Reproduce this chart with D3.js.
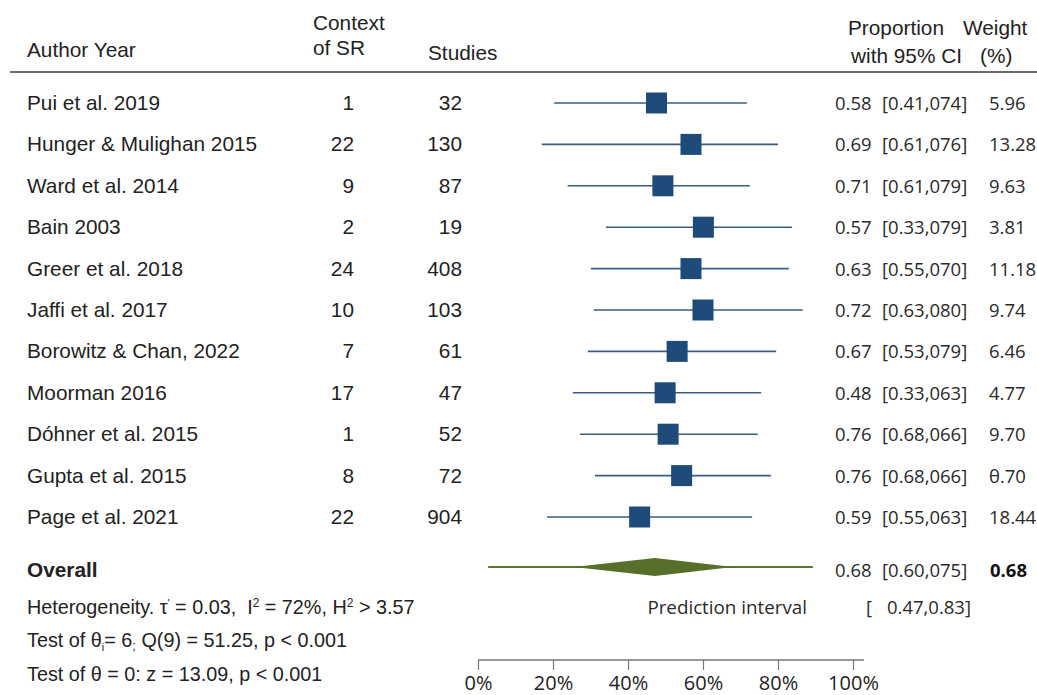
<!DOCTYPE html>
<html>
<head>
<meta charset="utf-8">
<script src="https://cdn.jsdelivr.net/npm/d3@7"></script>
<style>
  body { margin: 0; background: #fff; }
  .lab { font-family: "Liberation Sans", Arial, sans-serif; font-size: 20.8px; fill: #222; }
  .num { font-family: "Open Sans", sans-serif; font-size: 18.5px; fill: #2a2a2a; }
</style>
</head>
<body>
<div id="chart"></div>
<script>
// study rows
const authors = ["Pui et al. 2019", "Hunger & Mulighan 2015", "Ward et al. 2014", "Bain 2003",
  "Greer et al. 2018", "Jaffi et al. 2017", "Borowitz & Chan, 2022", "Moorman 2016",
  "Dóhner et al. 2015", "Gupta et al. 2015", "Page et al. 2021"];
const contexts = [1, 22, 9, 2, 24, 10, 7, 17, 1, 8, 22];
const studies = [32, 130, 87, 19, 408, 103, 61, 47, 52, 72, 904];
const propLabels = ["0.58", "0.69", "0.71", "0.57", "0.63", "0.72", "0.67", "0.48", "0.76", "0.76", "0.59"];
const ciLabels = ["[0.41,074]", "[0.61,076]", "[0.61,079]", "[0.33,079]", "[0.55,070]", "[0.63,080]",
  "[0.53,079]", "[0.33,063]", "[0.68,066]", "[0.68,066]", "[0.55,063]"];
const weightLabels = ["5.96", "13.28", "9.63", "3.81", "11.18", "9.74", "6.46", "4.77", "9.70", "θ.70", "18.44"];

// plotted positions (percent)
const estimates = [47.6, 56.8, 49.3, 60.1, 56.8, 60.0, 53.1, 49.9, 50.7, 54.3, 43.1];
const ciLow = [20.3, 17.0, 23.9, 34.1, 30.1, 30.9, 29.3, 25.3, 27.2, 31.2, 18.4];
const ciHigh = [71.7, 80.0, 72.5, 83.7, 82.9, 86.6, 79.5, 75.5, 74.6, 78.1, 73.1];

// overall
const overallEst = 47.2, overallLow = 25.5, overallHigh = 68.0;
const predLow = 2.7, predHigh = 89.3;

const xTicks = [0, 20, 40, 60, 80, 100];

const width = 1037, height = 695;
const svg = d3.select("#chart").append("svg")
  .attr("width", width)
  .attr("height", height);

const x = d3.scaleLinear().domain([0, 100]).range([478, 853]);
const y = d3.scalePoint().domain(authors).range([103, 517]);

// header
const hdr = svg.append("g").attr("class", "lab");
hdr.append("text").attr("x", 27).attr("y", 57).text("Author Year");
hdr.append("text").attr("x", 313).attr("y", 30).text("Context");
hdr.append("text").attr("x", 313).attr("y", 55).text("of SR");
hdr.append("text").attr("x", 428).attr("y", 60).text("Studies");
hdr.append("text").attr("x", 848).attr("y", 35).text("Proportion");
hdr.append("text").attr("x", 963).attr("y", 35).text("Weight");
hdr.append("text").attr("x", 851).attr("y", 63).text("with 95% CI");
hdr.append("text").attr("x", 980).attr("y", 63).text("(%)");
svg.append("line")
  .attr("x1", 10).attr("x2", width)
  .attr("y1", 72).attr("y2", 72)
  .attr("stroke", "#6a6a6a").attr("stroke-width", 2);

// row text
const rows = svg.append("g").selectAll("g").data(authors).join("g")
  .attr("transform", d => `translate(0,${y(d) + 7})`);
rows.append("text").attr("class", "lab").attr("x", 27).text(d => d);
rows.append("text").attr("class", "lab").attr("x", 354).attr("text-anchor", "end")
  .text((d, i) => contexts[i]);
rows.append("text").attr("class", "lab").attr("x", 462).attr("text-anchor", "end")
  .text((d, i) => studies[i]);
rows.append("text").attr("class", "num").attr("x", 835).text((d, i) => propLabels[i]);
rows.append("text").attr("class", "num").attr("x", 882).text((d, i) => ciLabels[i]);
rows.append("text").attr("class", "num").attr("x", 989).text((d, i) => weightLabels[i]);

// CI lines and squares
const marks = svg.append("g");
marks.selectAll("line").data(authors).join("line")
  .attr("x1", (d, i) => x(ciLow[i]))
  .attr("x2", (d, i) => x(ciHigh[i]))
  .attr("y1", d => y(d)).attr("y2", d => y(d))
  .attr("stroke", "#3a5d80").attr("stroke-width", 1.6);
const sq = 21;
marks.selectAll("rect").data(authors).join("rect")
  .attr("x", (d, i) => x(estimates[i]) - sq / 2)
  .attr("y", d => y(d) - sq / 2)
  .attr("width", sq).attr("height", sq)
  .attr("fill", "#1f4b7a");

// overall
const oy = 567;
svg.append("line")
  .attr("x1", x(predLow)).attr("x2", x(predHigh))
  .attr("y1", oy).attr("y2", oy)
  .attr("stroke", "#5b7430").attr("stroke-width", 2);
svg.append("path")
  .attr("d", `M${x(overallLow)},${oy} L${x(overallEst)},${oy - 9} L${x(overallHigh)},${oy} L${x(overallEst)},${oy + 9} Z`)
  .attr("fill", "#566f2a");

svg.append("text").attr("class", "lab").attr("x", 27).attr("y", 577)
  .attr("font-weight", "bold").text("Overall");
svg.append("text").attr("class", "num").attr("x", 835).attr("y", 577).text("0.68");
svg.append("text").attr("class", "num").attr("x", 882).attr("y", 577).text("[0.60,075]");
svg.append("text").attr("class", "num").attr("x", 990).attr("y", 577)
  .attr("font-weight", "bold").style("fill", "#111").text("0.68");

// heterogeneity lines
const het = svg.append("text").attr("class", "lab").attr("x", 27).attr("y", 614)
  .style("font-size", "19.8px");
het.append("tspan").text("Heterogeneity. τ");
het.append("tspan").attr("dy", -7).style("font-size", "11px").text("'");
het.append("tspan").attr("dy", 7).text(" = 0.03,\u00A0 I");
het.append("tspan").attr("dy", -7).style("font-size", "12px").text("2");
het.append("tspan").attr("dy", 7).text(" = 72%, H");
het.append("tspan").attr("dy", -7).style("font-size", "12px").text("2");
het.append("tspan").attr("dy", 7).text("\u00A0> 3.57");

const q = svg.append("text").attr("class", "lab").attr("x", 27).attr("y", 647)
  .style("font-size", "19.8px");
q.append("tspan").text("Test of θ");
q.append("tspan").attr("dy", 4).style("font-size", "11px").text("i");
q.append("tspan").attr("dy", -4).text("= 6");
q.append("tspan").attr("dy", 3).style("font-size", "13px").text(";");
q.append("tspan").attr("dy", -3).text(" Q(9) = 51.25, p < 0.001");

svg.append("text").attr("class", "lab").attr("x", 27).attr("y", 681)
  .style("font-size", "19.8px").text("Test of θ = 0: z = 13.09, p < 0.001");

svg.append("text").attr("class", "num").attr("x", 807).attr("y", 614)
  .attr("text-anchor", "end").style("font-size", "18.8px").text("Prediction interval");
svg.append("text").attr("class", "num").attr("x", 866).attr("y", 614).text("[");
svg.append("text").attr("class", "num").attr("x", 971).attr("y", 614)
  .attr("text-anchor", "end").text("0.47,0.83]");

// axis
const axis = svg.append("g")
  .attr("transform", "translate(0,660)")
  .call(d3.axisBottom(x).tickValues(xTicks).tickFormat(d => d + "%").tickSize(10).tickSizeOuter(0).tickPadding(6));
axis.select(".domain").attr("stroke", "#777").attr("stroke-width", 1.5)
  .attr("d", `M${x(0)},0H${x(100) + 11}`);
axis.selectAll(".tick line").attr("stroke", "#777").attr("stroke-width", 1.2);
axis.selectAll(".tick text")
  .attr("font-family", "'Open Sans', sans-serif")
  .attr("font-size", "20px")
  .attr("fill", "#222");
</script>
</body>
</html>
